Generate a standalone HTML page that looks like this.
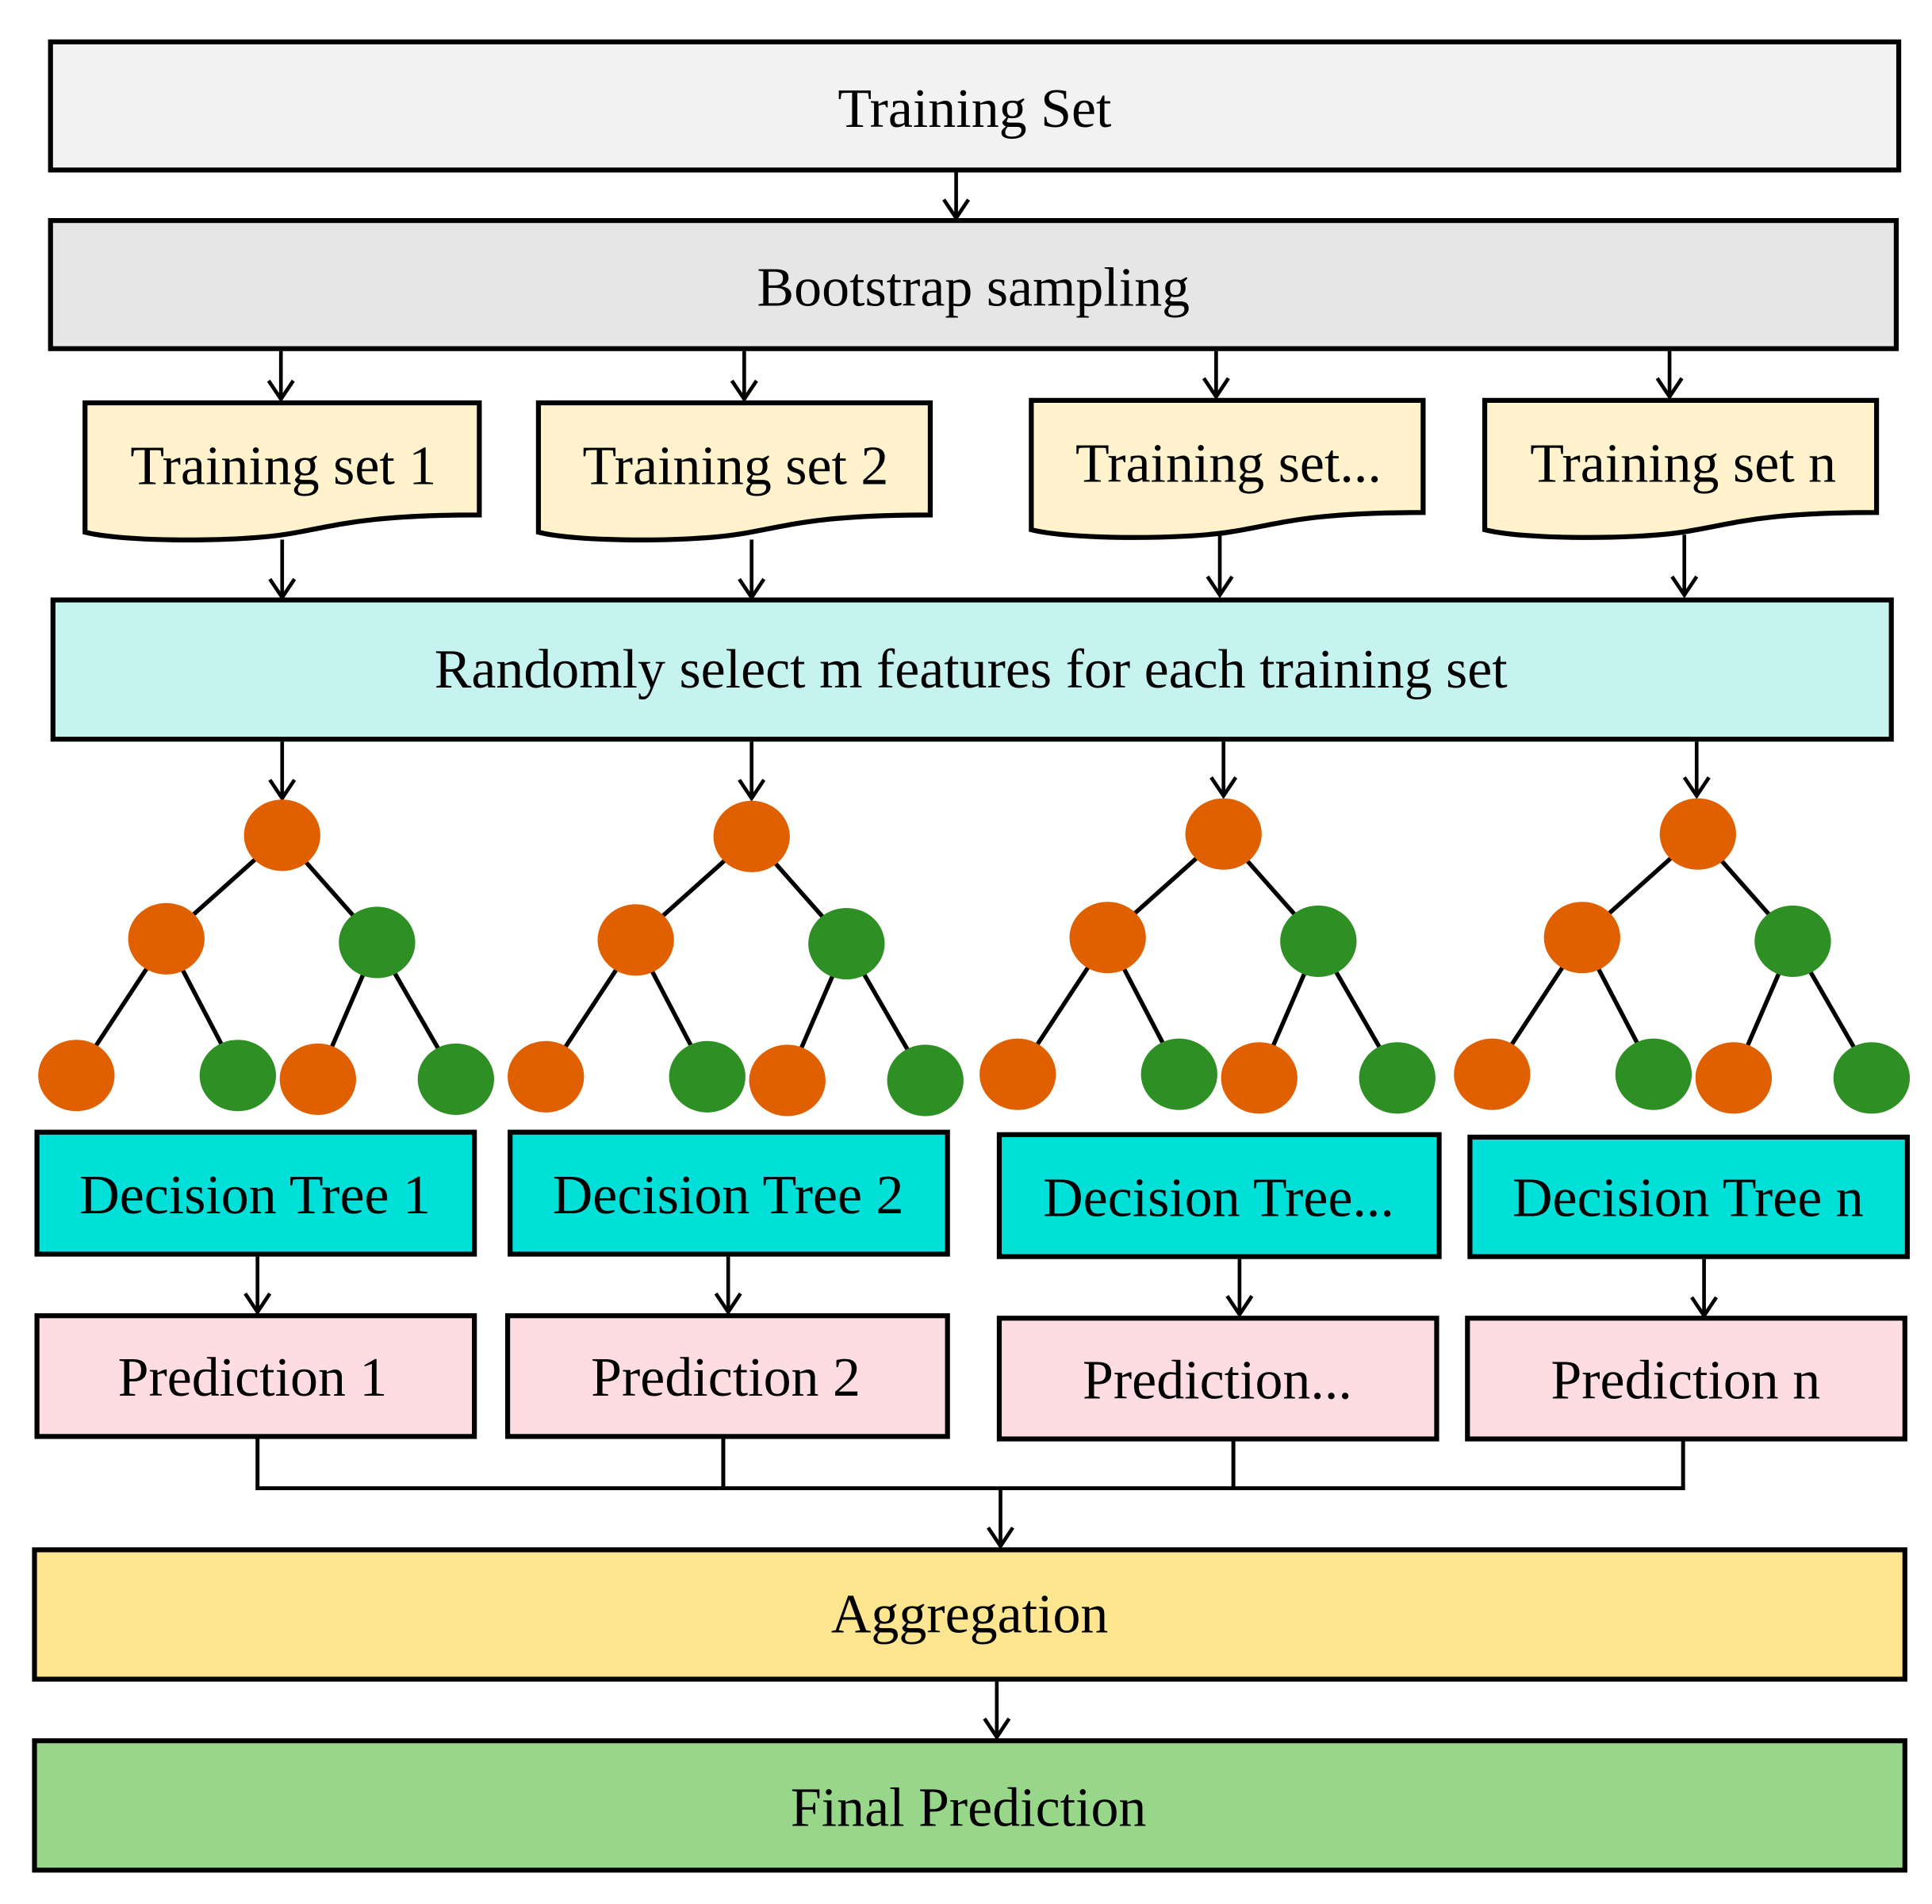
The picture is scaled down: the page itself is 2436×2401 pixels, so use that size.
<!DOCTYPE html>
<html><head><meta charset="utf-8"><style>html,body{margin:0;padding:0;background:#fff}svg{display:block}</style></head>
<body>
<svg xmlns="http://www.w3.org/2000/svg" width="2436" height="2401" viewBox="0 0 1568 1545.5" preserveAspectRatio="none">
<defs>
<marker id="a" markerWidth="20" markerHeight="24" refX="17" refY="12" orient="auto" markerUnits="userSpaceOnUse" viewBox="0 0 20 24">
<path d="M2,2 L17,12 L2,22" fill="none" stroke="#000" stroke-width="3"/>
</marker>
</defs>
<g font-family="Liberation Serif, serif" font-size="45" text-anchor="middle" fill="#000">
<g stroke="#000" stroke-width="4">
<rect x="41" y="34" width="1500" height="104" fill="#f2f2f2"/>
<rect x="41" y="179" width="1498" height="104" fill="#e6e6e6"/>
<rect x="43" y="487" width="1492" height="113" fill="#c6f2f0"/>
<rect x="30" y="919" width="355" height="99" fill="#00dfd8"/>
<rect x="414" y="919" width="355" height="99" fill="#00dfd8"/>
<rect x="811" y="921" width="357" height="99" fill="#00dfd8"/>
<rect x="1193" y="923" width="355" height="97" fill="#00dfd8"/>
<rect x="30" y="1068" width="355" height="98" fill="#fddde1"/>
<rect x="412" y="1068" width="357" height="98" fill="#fddde1"/>
<rect x="811" y="1070" width="355" height="98" fill="#fddde1"/>
<rect x="1191" y="1070" width="355" height="98" fill="#fddde1"/>
<rect x="28" y="1258" width="1518" height="105" fill="#fee58f"/>
<rect x="28" y="1413" width="1518" height="105" fill="#98d689"/>
<g fill="#fff2cc">
<path d="M69,327 H389 V418 C290,418 270,428 230,434 C190,440 100,440 69,432 Z"/>
<path d="M437,327 H755 V418 C657,418 637,428 597,434 C557,440 468,440 437,432 Z"/>
<path d="M837,325 H1155 V416 C1057,416 1037,426 997,432 C957,438 868,438 837,430 Z"/>
<path d="M1205,325 H1523 V416 C1425,416 1405,426 1365,432 C1325,438 1236,438 1205,430 Z"/>
</g>
</g>
<g stroke="#000" stroke-width="3" fill="none" marker-end="url(#a)">
<line x1="776" y1="139" x2="776" y2="177"/>
<line x1="228" y1="285" x2="228" y2="324"/>
<line x1="604" y1="285" x2="604" y2="324"/>
<line x1="987" y1="285" x2="987" y2="322"/>
<line x1="1355" y1="285" x2="1355" y2="322"/>
<line x1="229" y1="438" x2="229" y2="485"/>
<line x1="610" y1="438" x2="610" y2="485"/>
<line x1="990" y1="434" x2="990" y2="483"/>
<line x1="1367" y1="434" x2="1367" y2="483"/>
<line x1="229" y1="602" x2="229" y2="648"/>
<line x1="610" y1="602" x2="610" y2="648"/>
<line x1="993" y1="602" x2="993" y2="646"/>
<line x1="1377" y1="602" x2="1377" y2="646"/>
<line x1="209" y1="1020" x2="209" y2="1065"/>
<line x1="591" y1="1020" x2="591" y2="1065"/>
<line x1="1006" y1="1022" x2="1006" y2="1067"/>
<line x1="1383" y1="1022" x2="1383" y2="1068"/>
<line x1="812" y1="1208" x2="812" y2="1255"/>
<line x1="809" y1="1365" x2="809" y2="1410"/>
</g>
<path d="M209,1167 V1208 H1366 V1169 M587,1167 V1208 M1001,1169 V1208" fill="none" stroke="#000" stroke-width="3.2"/>
<g id="t1">
<g stroke="#000" stroke-width="3.5">
<line x1="229" y1="678" x2="135" y2="762"/><line x1="229" y1="678" x2="306" y2="765"/>
<line x1="135" y1="762" x2="62" y2="873"/><line x1="135" y1="762" x2="193" y2="873"/>
<line x1="306" y1="765" x2="258" y2="876"/><line x1="306" y1="765" x2="370" y2="876"/>
</g>
<ellipse cx="229" cy="678" rx="31" ry="29" fill="#e06000"/>
<ellipse cx="135" cy="762" rx="31" ry="29" fill="#e06000"/>
<ellipse cx="306" cy="765" rx="31" ry="29" fill="#2e8f24"/>
<ellipse cx="62" cy="873" rx="31" ry="29" fill="#e06000"/>
<ellipse cx="193" cy="873" rx="31" ry="29" fill="#2e8f24"/>
<ellipse cx="258" cy="876" rx="31" ry="29" fill="#e06000"/>
<ellipse cx="370" cy="876" rx="31" ry="29" fill="#2e8f24"/>
</g>
<use href="#t1" transform="translate(381,1)"/>
<use href="#t1" transform="translate(764,-1)"/>
<use href="#t1" transform="translate(1149,-1)"/>
<text x="791" y="103">Training Set</text>
<text x="790" y="248">Bootstrap sampling</text>
<text x="230" y="393">Training set 1</text>
<text x="597" y="393">Training set 2</text>
<text x="997" y="391">Training set...</text>
<text x="1366" y="391">Training set n</text>
<text x="788" y="558">Randomly select m features for each training set</text>
<text x="207" y="985">Decision Tree 1</text>
<text x="591" y="985">Decision Tree 2</text>
<text x="989" y="987">Decision Tree...</text>
<text x="1370" y="987">Decision Tree n</text>
<text x="205" y="1133">Prediction 1</text>
<text x="589" y="1133">Prediction 2</text>
<text x="988" y="1135">Prediction...</text>
<text x="1368" y="1135">Prediction n</text>
<text x="787" y="1325">Aggregation</text>
<text x="786" y="1482">Final Prediction</text>
</g>
</svg>
</body></html>
